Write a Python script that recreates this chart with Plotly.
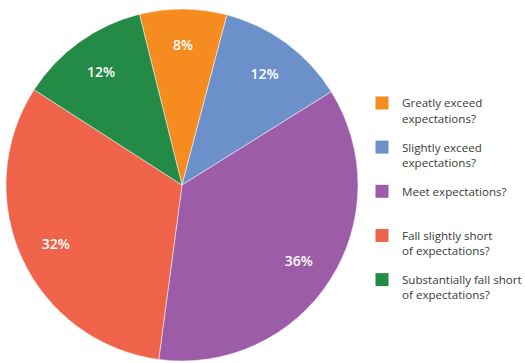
import plotly.graph_objects as go

labels = ["Greatly exceed<br>expectations?", "Slightly exceed<br>expectations?",
          "Meet expectations?<br> ", "Fall slightly short<br>of expectations?",
          "Substantially fall short<br>of expectations?"]
values = [8, 12, 36, 32, 12]
colors = ["#F68B1F", "#6C91CA", "#9D5CA7", "#EF634A", "#238B45"]

dom = dict(x=[6/525, 358/525], y=[2/363, 354/363])

fig = go.Figure()
fig.add_trace(go.Pie(
    labels=labels, values=values, sort=False, direction="clockwise",
    rotation=-14,
    marker=dict(colors=colors, line=dict(color="white", width=0.5)),
    textinfo="none", domain=dom, showlegend=False,
    hoverinfo="label+percent",
))
# transparent ring overlay to place the percentage labels toward the rim
fig.add_trace(go.Pie(
    labels=labels, values=values, sort=False, direction="clockwise",
    rotation=-14, hole=0.58,
    marker=dict(colors=["rgba(0,0,0,0)"] * len(values), line=dict(width=0)),
    texttemplate="%{value}%", textposition="inside",
    insidetextorientation="horizontal",
    textfont=dict(color="white", size=14, family="Open Sans", weight=600),
    domain=dom, showlegend=False, hoverinfo="skip",
))
# legend entries
for lab, col in zip(labels, colors):
    fig.add_trace(go.Scatter(
        x=[None], y=[None], mode="markers", name=lab, legendgroup=lab,
        marker=dict(symbol="square", size=13, color=col),
    ))
fig.update_layout(
    width=525, height=363,
    margin=dict(l=0, r=0, t=0, b=0, autoexpand=False),
    paper_bgcolor="white", plot_bgcolor="white",
    xaxis=dict(visible=False), yaxis=dict(visible=False),
    legend=dict(x=362/525, y=0.755, xanchor="left", yanchor="top",
                font=dict(size=11.6, color="#3a3a3a", family="Open Sans"),
                valign="top", tracegroupgap=11, itemwidth=30,
                traceorder="grouped"),
    showlegend=True,
)
fig.write_html("out.html")
